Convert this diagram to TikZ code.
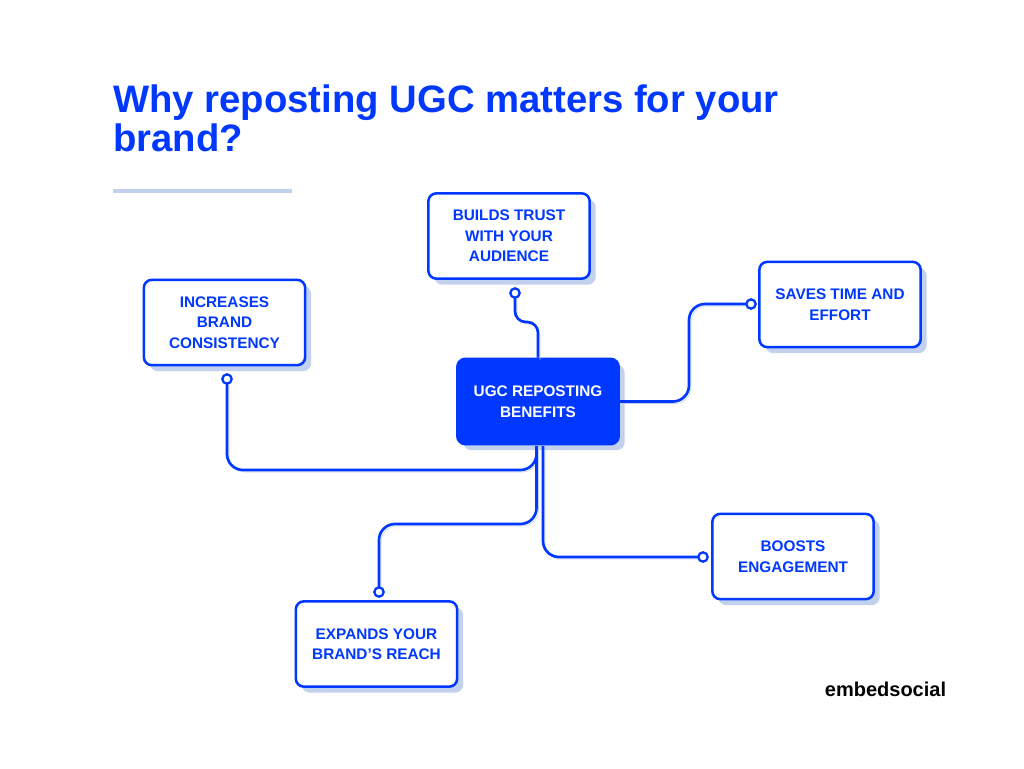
\documentclass[tikz,border=0pt]{standalone}
\usepackage{fontspec}
\setmainfont{Liberation Sans}
\usetikzlibrary{shadows}
\definecolor{ugcblue}{RGB}{0,56,255}
\definecolor{ugcshade}{RGB}{194,209,238}

\begin{document}
\begin{tikzpicture}[x=0.75pt, y=-0.75pt,
        box/.style={draw=ugcblue, line width=1.9pt, fill=white, rounded corners=6pt,
            minimum width=121pt, minimum height=64pt, align=center, text=ugcblue,
            font=\fontsize{11.5}{15.4}\selectfont\bfseries,
            drop shadow={fill=ugcshade, opacity=1, shadow xshift=4.5pt, shadow yshift=-4.5pt}},
        hubbox/.style={box, fill=ugcblue, text=white},
        link/.style={draw=ugcblue, line width=2pt, rounded corners=12pt,
            preaction={draw=ugcshade, transform canvas={shift={(1.5pt,-1.5pt)}}}},
        dot/.style={circle, draw=ugcblue, fill=white, line width=1.7pt, minimum size=7pt, inner sep=0pt}]
        \fill[white] (0, 0) rectangle (1024, 768);
        \useasboundingbox (0, 0) rectangle (1024, 768);

        \node[anchor=base west, align=left, inner sep=0pt, text=ugcblue,
            font=\fontsize{28.7}{29.25}\selectfont\bfseries] (title) at (113, 151)
            {Why reposting UGC matters for your\\brand?};
        \draw[ugcshade, line width=3pt] (113, 190.5) -- (292, 190.5);

        %%%

        \node[hubbox] (hub) at (538, 401.5) {UGC REPOSTING\\BENEFITS};

        \node[box] (trust) at (509, 236) {BUILDS TRUST\\WITH YOUR\\AUDIENCE};
        \node[box] (consist) at (224.5, 322.5) {INCREASES\\BRAND\\CONSISTENCY};
        \node[box] (saves) at (840, 304.5) {SAVES TIME AND\\EFFORT};
        \node[box] (boosts) at (793, 556.5) {BOOSTS\\ENGAGEMENT};
        \node[box] (expands) at (376.5, 644) {EXPANDS YOUR\\BRAND'S REACH};

        %%%

        \coordinate (hubl) at (536.5, 446);
        \coordinate (hubr) at (543, 446);

        \draw[link, rounded corners=8pt] (hub.north) -- (538, 322) -- (515, 322) -- (515, 297);
        \draw[link] (hub.east) -- (689, 401.5) -- (689, 304) -- (747, 304);
        \draw[link] (hubl) -- (536.5, 470) -- (227, 470) -- (227, 383);
        \draw[link] (hubl) -- (536.5, 524) -- (379, 524) -- (379, 588);
        \draw[link] (hubr) -- (543, 557) -- (699, 557);

        \node[dot] (trustdot) at (515, 293) {};
        \node[dot] (savesdot) at (751, 304) {};
        \node[dot] (consistdot) at (227, 379) {};
        \node[dot] (expandsdot) at (379, 592) {};
        \node[dot] (boostsdot) at (703, 557) {};

        \node[font=\fontsize{15}{15}\selectfont\bfseries] (logo) at (885.5, 689) {embedsocial};
    \end{tikzpicture}
\end{document}
